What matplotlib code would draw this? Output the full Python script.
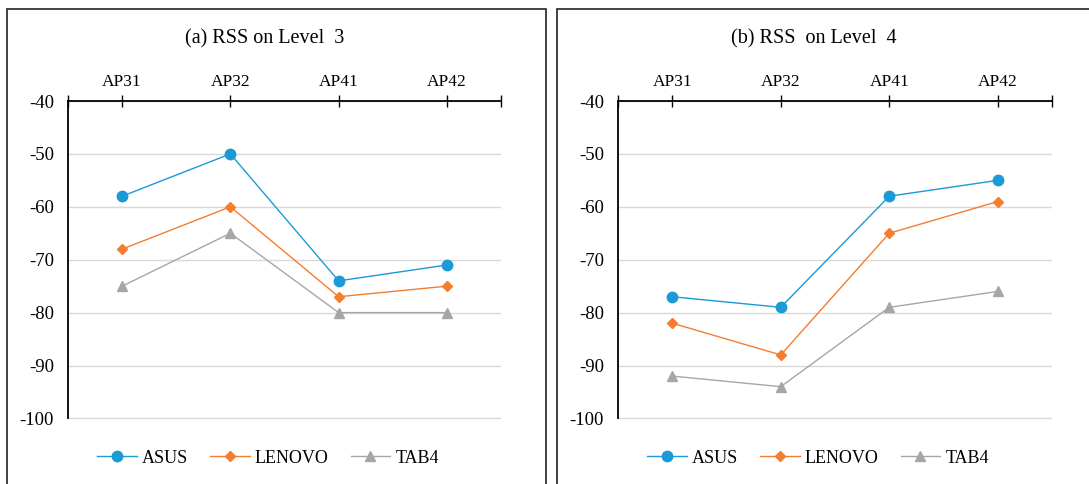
import matplotlib
matplotlib.use("Agg")
import matplotlib.pyplot as plt
from matplotlib.patches import Rectangle

plt.rcParams['font.family'] = ['Liberation Serif', 'DejaVu Serif']

categories = ["AP31", "AP32", "AP41", "AP42"]
series_names = ["ASUS", "LENOVO", "TAB4"]
level3_asus = [-58, -50, -74, -71]
level3_lenovo = [-68, -60, -77, -75]
level3_tab4 = [-75, -65, -80, -80]
level4_asus = [-77, -79, -58, -55]
level4_lenovo = [-82, -88, -65, -59]
level4_tab4 = [-92, -94, -79, -76]
titles = ["(a) RSS on Level  3", "(b) RSS  on Level  4"]
yticks = [-40, -50, -60, -70, -80, -90, -100]

colors = ["#1b9ad6", "#f57d2f", "#a6a6a6"]
markers = ["o", "D", "^"]
msizes = [7.5, 5, 7.5]

W, H = 1089, 484
fig = plt.figure(figsize=(W / 100, H / 100), dpi=100)

def fx(px):
    return px / W

def fy(py):
    return 1 - py / H

# panel borders
for (x0, x1) in [(7, 546), (557, 1095)]:
    fig.patches.append(Rectangle((fx(x0), fy(494)), fx(x1 - x0), (494 - 9) / H,
                                 transform=fig.transFigure, fill=False,
                                 edgecolor="#333333", linewidth=1.3, clip_on=False))

panels = [
    (68, 501, titles[0], [level3_asus, level3_lenovo, level3_tab4], 265, 268),
    (618, 1052, titles[1], [level4_asus, level4_lenovo, level4_tab4], 814, 818),
]

x = list(range(len(categories)))
for (l, r, title, data, cx, lx) in panels:
    ax = fig.add_axes([fx(l), fy(420), fx(r - l), (420 - 101) / H])
    for vals, name, c, m, ms in zip(data, series_names, colors, markers, msizes):
        ax.plot(x, vals, color=c, marker=m, markersize=ms, linewidth=1.0,
                label=name, zorder=3)
    ax.set_xlim(-0.5, 3.5)
    ax.set_ylim(-100.3, -40)
    ax.set_yticks(yticks)
    ax.set_yticklabels([str(v) for v in yticks])
    ax.yaxis.grid(True, color="#d9d9d9", linewidth=1.0)
    ax.set_axisbelow(True)
    ax.xaxis.tick_top()
    ax.set_xticks(x)
    ax.set_xticklabels(categories)
    ax.set_xticks([-0.5, 3.5], minor=True)
    ax.tick_params(axis="x", which="both", direction="inout", length=8, width=1.0,
                   labelsize=12.5, pad=4, colors="black")
    ax.tick_params(axis="y", length=0, labelsize=13.5, pad=10)
    for s in ["right", "bottom"]:
        ax.spines[s].set_visible(False)
    ax.spines["left"].set_linewidth(1.3)
    ax.spines["left"].set_bounds(-100, -40)
    ax.spines["top"].set_linewidth(1.3)
    fig.text(fx(cx), fy(39), title, ha="center", va="center", fontsize=14.5)
    ax.legend(loc="center",
              bbox_to_anchor=((lx - l) / (r - l), (420 - 458) / (420 - 101.3)),
              ncol=3, frameon=False, fontsize=13, handlelength=2.2,
              columnspacing=1.2, handletextpad=0.3)

fig.savefig("out.png", dpi=100)
